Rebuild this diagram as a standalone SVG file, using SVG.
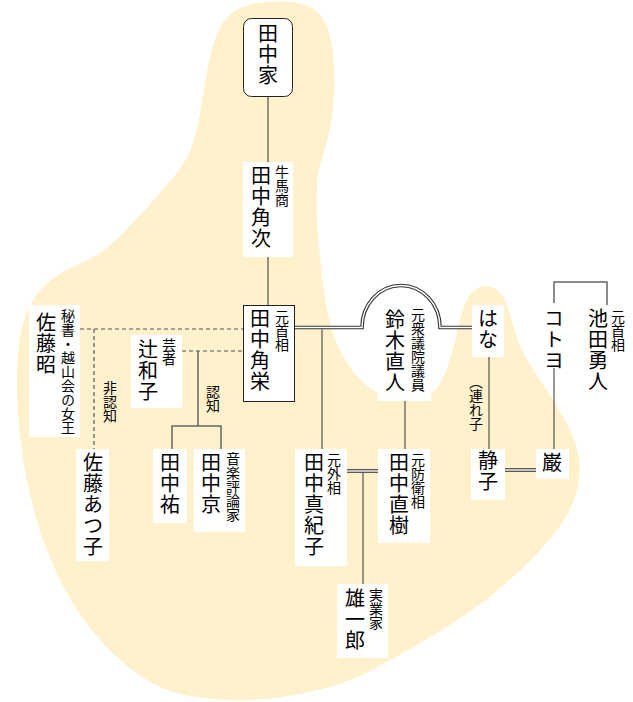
<svg xmlns="http://www.w3.org/2000/svg" width="633" height="702" viewBox="0 0 633 702">
<style>
.bg{fill:#FFF1CC;stroke:none}
.box{fill:#fff;stroke:none}
.fbox{fill:#fff;stroke:#222;stroke-width:1}
.ln{fill:none;stroke:#333;stroke-width:1}
.gl{fill:none;stroke:#666;stroke-width:1.5}
.ds{fill:none;stroke:#555;stroke-width:1.2;stroke-dasharray:4 3}
.dbo{fill:none;stroke:#333;stroke-width:3.6}
.dbi{fill:none;stroke:#fff;stroke-width:1.4}
text{font-family:"Noto Sans CJK JP","Noto Sans CJK SC",sans-serif;writing-mode:vertical-rl;fill:#000}
.m{font-size:20px;letter-spacing:1px}
.s{font-size:14px}
</style>
<path class="bg" d="M216.5,35 Q222,20 232.5,12.5 Q243,5 256.5,3 Q270,1 285,1.5 Q300,2 310,7 Q320,12 325.5,23.5 Q331,35 333,52.5 Q335,70 334.5,87.5 Q334,105 331,122.5 Q328,140 323,155 Q318,170 317,187.5 Q316,205 317.5,227.5 Q319,250 322,275 Q325,300 329,318.5 Q333,337 341.5,353.5 Q350,370 364,383 Q378,396 391.5,399 Q405,402 418.5,399 Q432,396 438,387 Q444,378 448.5,364 Q453,350 457.5,330 Q462,310 467,300 Q472,290 479.5,287.5 Q487,285 493.5,288 Q500,291 504.5,299.5 Q509,308 511.5,319 Q514,330 518,341 Q522,352 531,366 Q540,380 550,395 Q560,410 567.5,425 Q575,440 578,452.5 Q581,465 579,480 Q577,495 569.5,510 Q562,525 546,543.5 Q530,562 508.5,581 Q487,600 466.5,614 Q446,628 423,641.5 Q400,655 375,668.5 Q350,682 325,688.5 Q300,695 275,698 Q250,701 226.5,700 Q203,699 182.5,694.5 Q162,690 142,677 Q122,664 101.5,641.5 Q81,619 65,589.5 Q49,560 38.5,526.5 Q28,493 23,459.5 Q18,426 17,393 Q16,360 20,337 Q24,314 32.5,300.5 Q41,287 53,278.5 Q65,270 79,264 Q93,258 103.5,250.5 Q114,243 128,228 Q142,213 156,197.5 Q170,182 180,168.5 Q190,155 194.5,138 Q199,121 201.5,104.5 Q204,88 207.5,69 Q211,50 216.5,35 Z"/>
<g id="connectors">
<path class="ln" d="M268,96 V162"/>
<path class="ln" d="M268,257 V305"/>
<path class="dbo" d="M294,327.5 H362 A39,42 0 0 1 440,327.5 H472"/>
<path class="dbi" d="M294,327.5 H362 A39,42 0 0 1 440,327.5 H472"/>
<path class="ln" d="M322,329.5 V449"/>
<path class="ln" d="M405,401 V449"/>
<path class="dbo" d="M347,471 H378"/>
<path class="dbi" d="M347,471 H378"/>
<path class="ln" d="M363,473 V584"/>
<path class="ln" d="M489,357 V449"/>
<path class="dbo" d="M505,470 H536"/>
<path class="dbi" d="M505,470 H536"/>
<path class="ln" d="M554,368 V449"/>
<path class="gl" d="M554,303 V282 H607 V305"/>
<path class="ds" d="M80,329 H243"/>
<path class="ds" d="M94,329 V449"/>
<path class="ds" d="M182,351 H243"/>
<path class="gl" d="M198,351 V426"/>
<path class="gl" d="M172,449 V426 H221 V449"/>
<text class="s" x="110" y="381">非認知</text>
<text class="s" x="213" y="385">認知</text>
<text class="s" x="476" y="375">（連れ子</text>
</g>
<g id="tanaka-ke"><rect class="fbox" x="243.5" y="18.5" width="49" height="78" rx="8"/><text class="m" x="268" y="23">田中家</text></g>
<g id="tanaka-kakuji"><rect class="box" x="243" y="162" width="50" height="95"/><text class="m" x="261" y="165">田中角次</text><text class="s" x="282" y="165">牛馬商</text></g>
<g id="tanaka-kakuei"><rect class="fbox" x="243.5" y="305.5" width="51" height="96"/><text class="m" x="260" y="308">田中角栄</text><text class="s" x="282" y="310">元首相</text></g>
<g id="suzuki-naoto"><rect class="box" x="378" y="303" width="53" height="98"/><text class="m" x="395" y="309">鈴木直人</text><text class="s" x="418" y="308">元衆議院議員</text></g>
<g id="hana"><rect class="box" x="472" y="305" width="32" height="52"/><text class="m" x="488" y="308">はな</text></g>
<g id="kotoyo"><rect class="box" x="541" y="303" width="27" height="65"/><text class="m" x="554" y="308">コトヨ</text></g>
<g id="ikeda-hayato"><rect class="box" x="585" y="305" width="45" height="90"/><text class="m" x="598" y="308">池田勇人</text><text class="s" x="618" y="310">元首相</text></g>
<g id="sato-akira"><rect class="box" x="29" y="305" width="51" height="132"/><text class="m" x="46" y="312">佐藤昭</text><text class="s" x="68" y="309">秘書・越山会の女王</text></g>
<g id="tsuji-kazuko"><rect class="box" x="131" y="335" width="51" height="73"/><text class="m" x="148" y="339">辻和子</text><text class="s" x="169" y="338">芸者</text></g>
<g id="tanaka-yu"><rect class="box" x="153" y="449" width="34" height="74"/><text class="m" x="170" y="452">田中祐</text></g>
<g id="tanaka-kyo"><rect class="box" x="194" y="449" width="51" height="83"/><text class="m" x="211" y="452">田中京</text><text class="s" x="233" y="452">音楽評論家</text></g>
<g id="sato-atsuko"><rect class="box" x="76" y="449" width="33" height="112"/><text class="m" x="93" y="452">佐藤あつ子</text></g>
<g id="tanaka-makiko"><rect class="box" x="295" y="449" width="52" height="117"/><text class="m" x="314" y="452">田中真紀子</text><text class="s" x="334" y="453">元外相</text></g>
<g id="tanaka-naoki"><rect class="box" x="378" y="449" width="52" height="94"/><text class="m" x="399" y="452">田中直樹</text><text class="s" x="418" y="453">元防衛相</text></g>
<g id="shizuko"><rect class="box" x="471" y="449" width="34" height="51"/><text class="m" x="488" y="450">静子</text></g>
<g id="iwao"><rect class="box" x="536" y="449" width="33" height="30"/><text class="m" x="552" y="452">巌</text></g>
<g id="yuichiro"><rect class="box" x="337" y="584" width="51" height="74"/><text class="m" x="355" y="588">雄一郎</text><text class="s" x="376" y="588">実業家</text></g>
</svg>
